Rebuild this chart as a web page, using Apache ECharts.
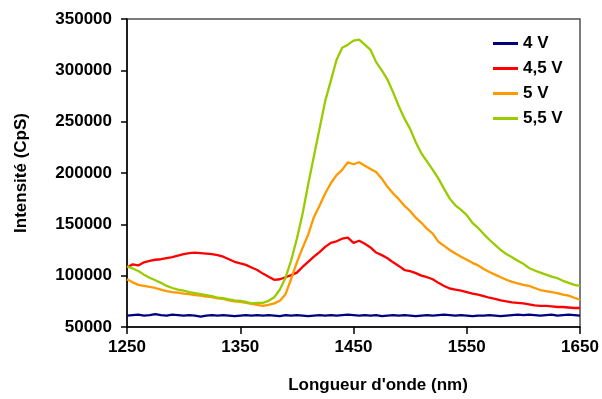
<!DOCTYPE html>
<html>
<head>
<meta charset="utf-8">
<script src="https://cdn.jsdelivr.net/npm/echarts@6/dist/echarts.min.js"></script>
<style>html,body{margin:0;padding:0;background:#fff}#c{width:602px;height:399px}</style>
</head>
<body>
<div id="c"></div>
<script>
const wavelengths = [
1250,1255,1260,1265,1270,1275,1280,1285,1290,1295,
1300,1305,1310,1315,1320,1325,1330,1335,1340,1345,
1350,1355,1360,1365,1370,1375,1380,1385,1390,1395,
1400,1405,1410,1415,1420,1425,1430,1435,1440,1445,
1450,1455,1460,1465,1470,1475,1480,1485,1490,1495,
1500,1505,1510,1515,1520,1525,1530,1535,1540,1545,
1550,1555,1560,1565,1570,1575,1580,1585,1590,1595,
1600,1605,1610,1615,1620,1625,1630,1635,1640,1645,
1650];
const xTicks = [1250, 1350, 1450, 1550, 1650];
const yTicks = [50000, 100000, 150000, 200000, 250000, 300000, 350000];
const seriesNames = ['4 V', '4,5 V', '5 V', '5,5 V'];
const v40 = [
61000,61500,62000,61000,61500,62500,61500,61000,62000,61500,
61000,61500,61000,60000,61000,61500,61000,61500,61000,60500,
61000,61500,61000,61500,61000,61500,61000,60500,61500,61000,
61500,61000,60500,61000,61500,61000,61500,61000,61500,62000,
61500,61000,61500,61000,61500,60500,61000,61500,61000,61500,
61000,60500,61000,61500,61000,61500,62000,61500,61000,61500,
61000,60500,61000,61000,61500,61000,60500,61000,61500,62000,
61500,62000,61500,61000,61500,62000,61000,61500,62000,61500,
61000];
const v45 = [
108000,111000,110000,113000,114500,115500,116000,117000,118000,119500,
121000,122000,122500,122000,121500,121000,120000,118500,116000,113500,
112000,110500,108000,105500,102000,99000,96000,96500,98500,100500,
103000,108500,113500,118500,123000,128000,132000,133500,136000,137000,
132000,134000,131000,127500,122500,120000,117000,113000,109500,105500,
104500,102500,100000,98500,96500,93000,90000,87500,86500,85500,
84000,82500,81500,80000,78500,77500,76000,75000,74000,73500,
73000,72000,71000,70500,70500,70000,69500,69500,69000,68500,
68500];
const v50 = [
96500,93500,91000,90000,89000,88000,86500,85000,84000,83500,
82500,82000,81000,80500,79500,79000,78000,77500,76000,75000,
74500,73500,72500,71500,70500,71500,73000,75500,82000,97000,
113000,127000,140000,157000,168000,180000,190000,198000,203000,210500,
208500,210500,207000,204000,201000,194500,186500,180000,174500,168000,
163000,156500,151500,145500,141000,133000,129000,125000,121500,118500,
115500,112500,110000,106500,103500,101000,98500,96000,94000,92500,
91000,90000,88000,86000,85000,84000,83000,81500,80500,78500,
76500];
const v55 = [
109000,107000,104500,101000,98000,95500,93000,90000,88000,86500,
85500,84000,83000,82000,81000,80000,78500,78000,77000,76000,
75500,74500,73000,73500,73500,75500,79000,86500,98000,115000,
136000,160000,189000,216000,243000,270000,290000,310000,322000,325000,
329000,330000,325000,320000,308000,300000,291000,278500,265000,253000,
243000,230000,219000,211000,203000,194500,184500,175000,168500,164000,
159000,151500,146500,140500,135000,130000,125000,121000,118000,114500,
111500,107500,105000,103000,101000,99000,97500,95000,93000,91000,
90000];
const colors = ['#000080', '#FF0000', '#FF9900', '#99CC00'];
const allValues = [v40, v45, v50, v55];

const FONT = '"Liberation Sans", Arial, sans-serif';
const chart = echarts.init(document.getElementById('c'), null, {renderer: 'canvas'});
chart.setOption({
  animation: false,
  backgroundColor: '#ffffff',
  grid: {left: 127, top: 19, right: 22, bottom: 69.5, show: true, borderColor: '#505050', borderWidth: 1.5, containLabel: false},
  legend: {
    orient: 'vertical', left: 488, top: 30, itemGap: 8,
    icon: 'rect', itemWidth: 25, itemHeight: 3,
    textStyle: {fontFamily: FONT, fontSize: 17, fontWeight: 'bold', color: '#000', lineHeight: 17},
    data: seriesNames
  },
  xAxis: {
    type: 'value', min: xTicks[0], max: xTicks[xTicks.length - 1], interval: 100,
    name: 'Longueur d\'onde (nm)', nameLocation: 'middle', nameGap: 50,
    nameTextStyle: {fontFamily: FONT, fontSize: 17, fontWeight: 'bold', color: '#000', padding: [0, 0, 0, 49]},
    axisLine: {show: true, onZero: false, lineStyle: {color: '#000', width: 1.5}},
    axisTick: {show: true, inside: false, length: 7, lineStyle: {color: '#000', width: 1.5}},
    axisLabel: {fontFamily: FONT, fontSize: 17, fontWeight: 'bold', color: '#000', margin: 12, formatter: v => String(v)},
    splitLine: {show: false}
  },
  yAxis: {
    type: 'value', min: yTicks[0], max: yTicks[yTicks.length - 1], interval: 50000,
    name: 'Intensité (CpS)', nameLocation: 'middle', nameGap: 97,
    nameTextStyle: {fontFamily: FONT, fontSize: 17, fontWeight: 'bold', color: '#000'},
    axisLine: {show: true, onZero: false, lineStyle: {color: '#000', width: 1.5}},
    axisTick: {show: true, inside: false, length: 6, lineStyle: {color: '#000', width: 1.5}},
    axisLabel: {fontFamily: FONT, fontSize: 17, fontWeight: 'bold', color: '#000', margin: 15, formatter: v => String(v)},
    splitLine: {show: false}
  },
  series: seriesNames.map((name, i) => ({
    name: name, type: 'line', showSymbol: false, symbol: 'none',
    lineStyle: {color: colors[i], width: 2.3},
    itemStyle: {color: colors[i]},
    data: wavelengths.map((w, j) => [w, allValues[i][j]])
  }))
});
</script>
</body>
</html>
